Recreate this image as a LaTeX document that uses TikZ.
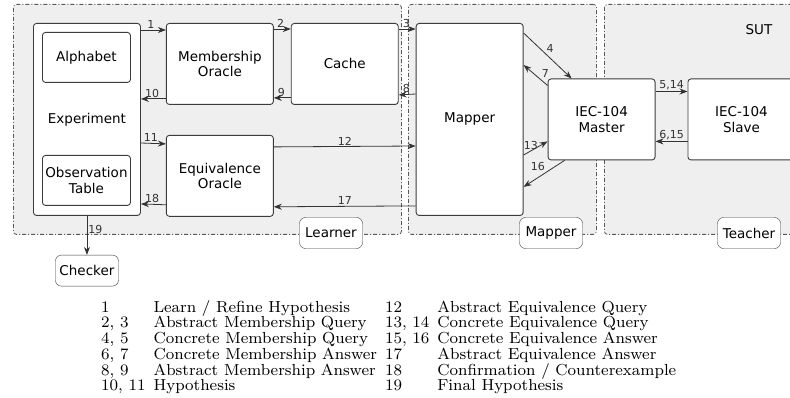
\documentclass[tikz,border=0pt]{standalone}
\usepackage{fontspec}
\setsansfont{DejaVu Sans}
\newfontfamily\legendfont{lmroman8-regular.otf}
\usepackage{tikz}
\usetikzlibrary{arrows.meta,positioning}
\definecolor{regiongray}{HTML}{EFEFEF}
\definecolor{boxline}{HTML}{3C3C3C}
\definecolor{arrowline}{HTML}{333333}

\begin{document}
\begin{tikzpicture}[
  x=1pt, y=-1pt,
  region/.style={draw=boxline!85, fill=regiongray, rounded corners=3pt, dash pattern=on 4pt off 2pt on 1pt off 2pt, line width=0.8pt, anchor=north west, inner sep=0pt, minimum height=230pt},
  box/.style={draw=boxline, fill=white, rounded corners=3pt, align=center, line width=0.9pt, font=\sffamily\fontsize{13.5}{15.5}\selectfont, minimum width=107pt, minimum height=81pt, inner sep=2pt},
  inbox/.style={box, minimum width=88pt, minimum height=50pt},
  tag/.style={draw=boxline, fill=white, rounded corners=6pt, font=\sffamily\fontsize{13.5}{15.5}\selectfont, minimum width=63pt, minimum height=31pt, inner sep=2pt},
  num/.style={font=\sffamily\fontsize{11}{12}\selectfont, inner sep=1pt},
  arrow/.style={-{Stealth[length=8pt,width=6pt]}, line width=0.8pt, color=arrowline}
]
\useasboundingbox (0,0) rectangle (790,398);
% regions
\node[region, minimum width=388pt] (learnreg) at (13,4) {};
\node[region, minimum width=188pt] (mapreg) at (408,4) {};
\node[region, minimum width=200pt] (teachreg) at (604,4) {};
\node[tag] (learnertag) at (331,233) {Learner};
\node[tag] (mappertag) at (551,233) {Mapper};
\node[tag] (teachertag) at (749,233) {Teacher};
\node[font=\sffamily\fontsize{13.5}{15.5}\selectfont] (sut) at (759,30) {SUT};

% learner
\node[box, anchor=north west, minimum height=192pt] (exp) at (33,23) {Experiment};
\node[inbox, below right=9pt and 9pt of exp.north west] (alpha) {Alphabet};
\node[inbox, above right=10pt and 9pt of exp.south west] (obs) {Observation\\Table};
\node[box, right=25pt of exp.north east, anchor=north west] (mo) {Membership\\Oracle};
\node[box, right=17pt of mo] (cache) {Cache};
\node[box, below=30pt of mo] (eo) {Equivalence\\Oracle};
\node[box, right=17pt of cache.north east, anchor=north west, minimum height=192pt] (mapper) {Mapper};
\node[box, right=24pt of mapper] (master) {IEC-104\\Master};
\node[box, right=32pt of master] (slave) {IEC-104\\Slave};
\node[tag, below=39pt of exp] (checker) {Checker};

% membership queries
\draw[arrow] ([yshift=-7pt]exp.north east) -- ([yshift=-7pt]mo.north west) node[num, pos=0.4, above] {1};
\draw[arrow] ([yshift=-6pt]mo.north east) -- ([yshift=-6pt]cache.north west) node[num, pos=0.4, above] {2};
\draw[arrow] ([yshift=-6pt]cache.north east) -- ([yshift=-6pt]mapper.north west) node[num, pos=0.45, above] {3};
\draw[arrow] ([yshift=-71pt]mapper.north west) -- ([yshift=10pt]cache.south east) node[num, pos=0.55, above] {8};
\draw[arrow] ([yshift=7pt]cache.south west) -- ([yshift=7pt]mo.south east) node[num, pos=0.55, above] {9};
\draw[arrow] ([yshift=6pt]mo.south west) -- ([yshift=6pt]exp.south east |- mo.south) node[num, pos=0.55, above] {10};

% equivalence queries
\draw[arrow] ([yshift=-120pt]exp.north east) -- ([yshift=-9pt]eo.north west) node[num, pos=0.4, above] {11};
\draw[arrow] ([yshift=-12pt]eo.north east) -- ([yshift=-123pt]mapper.north west) node[num, pos=0.5, above] {12};
\draw[arrow] ([yshift=10pt]mapper.south west) -- ([yshift=10pt]eo.south east) node[num, pos=0.5, above] {17};
\draw[arrow] ([yshift=12pt]eo.south west) -- ([yshift=12pt]exp.south east) node[num, pos=0.55, above] {18};
\draw[arrow] (exp.south) -- (checker.north) node[num, pos=0.35, right] {19};

% mapper and SUT
\draw[arrow] ([yshift=-10pt]mapper.north east) -- ([xshift=24pt]master.north west) node[num, pos=0.45, above right] {4};
\draw[arrow] ([yshift=-7pt]master.north west) -- ([yshift=-42pt]mapper.north east) node[num, pos=0.3, above right] {7};
\draw[arrow] ([yshift=-132pt]mapper.north east) -- ([yshift=19pt]master.south west) node[num, pos=0.3, above] {13};
\draw[arrow] ([xshift=17pt]master.south west) -- ([yshift=29pt]mapper.south east) node[num, pos=0.45, above left] {16};
\draw[arrow] ([yshift=-13pt]master.north east) -- ([yshift=-13pt]slave.north west) node[num, pos=0.5, above] {5,14};
\draw[arrow] ([yshift=19pt]slave.south west) -- ([yshift=19pt]master.south east) node[num, pos=0.5, above] {6,15};

% legend
\node[anchor=north west, inner sep=0pt, font=\legendfont\fontsize{16}{15.5}\selectfont] (legend) at (101,300) {%
\begin{tabular}{@{}l@{\hspace{8pt}}l@{\hspace{8pt}}l@{\hspace{8pt}}l@{}}
1 & Learn / Refine Hypothesis & 12 & Abstract Equivalence Query\\[-0.4pt]
2, 3 & Abstract Membership Query & 13, 14 & Concrete Equivalence Query\\[-0.4pt]
4, 5 & Concrete Membership Query & 15, 16 & Concrete Equivalence Answer\\[-0.4pt]
6, 7 & Concrete Membership Answer & 17 & Abstract Equivalence Answer\\[-0.4pt]
8, 9 & Abstract Membership Answer & 18 & Confirmation / Counterexample\\[-0.4pt]
10, 11 & Hypothesis & 19 & Final Hypothesis
\end{tabular}};
\end{tikzpicture}
\end{document}
